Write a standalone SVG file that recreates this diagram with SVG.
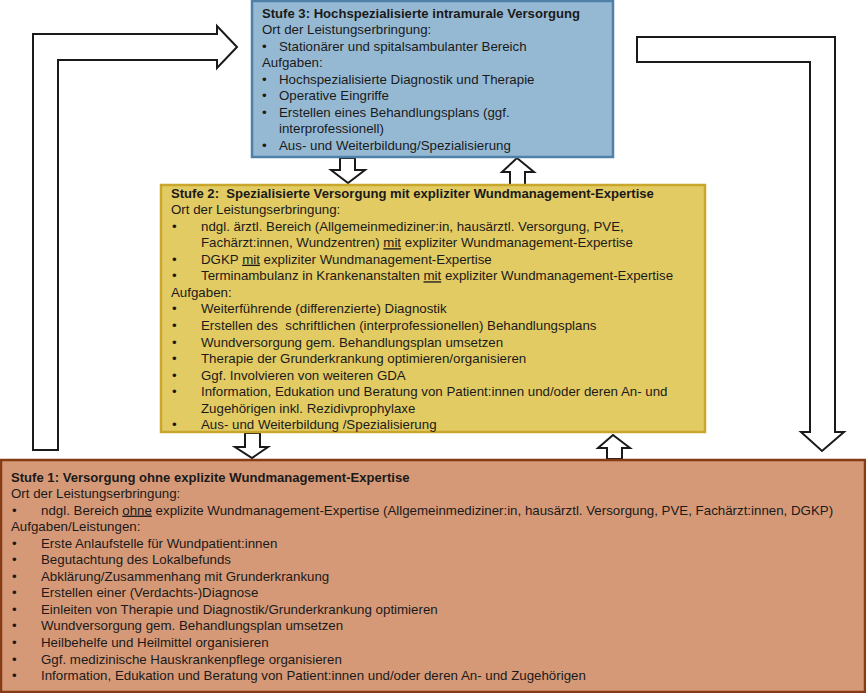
<svg xmlns="http://www.w3.org/2000/svg" width="866" height="693" viewBox="0 0 866 693">
<style>
text{font-family:"Liberation Sans",Arial,sans-serif;font-size:13.3px;fill:#1a1a1a;white-space:pre}
.b{font-weight:bold;font-size:13.1px}
.u{text-decoration:underline}
.arr{fill:#fff;stroke:#1a1a1a;stroke-width:2;stroke-linejoin:miter}
</style>
<rect width="866" height="693" fill="#fff"/>
<g id="connectors">
<path class="arr" d="M33,450 V34 H217 V26 L237,47 L217,68 V60 H58 V450 Z"/>
<path class="arr" d="M637,37 H835 V432 H844 L822,451 L801,432 H810 V62 H637 Z"/>
<path class="arr" d="M340,158 H355 V170 H365 L348,183 L331,170 H340 Z"/>
<path class="arr" d="M510,185 V172 H502 L517,158 L534,172 H525 V185 Z"/>
<path class="arr" d="M245,433 H260 V447 H268 L252,458 L235,447 H245 Z"/>
<path class="arr" d="M607,459 V448 H598 L613,435 L630,448 H622 V459 Z"/>
</g>
<g id="stufe3">
<rect x="252" y="1" width="361" height="156" fill="#96b9d3" stroke="#4f81a8" stroke-width="2.5"/>
<text x="262" y="17.5" class="b">Stufe 3: Hochspezialisierte intramurale Versorgung</text>
<text x="262" y="34">Ort der Leistungserbringung:</text>
<text x="262" y="50.6">•</text><text x="279" y="50.6">Stationärer und spitalsambulanter Bereich</text>
<text x="262" y="67.2">Aufgaben:</text>
<text x="262" y="83.7">•</text><text x="279" y="83.7">Hochspezialisierte Diagnostik und Therapie</text>
<text x="262" y="100.3">•</text><text x="279" y="100.3">Operative Eingriffe</text>
<text x="262" y="116.8">•</text><text x="279" y="116.8">Erstellen eines Behandlungsplans (ggf.</text>
<text x="279" y="133.4">interprofessionell)</text>
<text x="262" y="150">•</text><text x="279" y="150">Aus- und Weiterbildung/Spezialisierung</text>
</g>
<g id="stufe2">
<rect x="161" y="185" width="544" height="247" fill="#e3cb63" stroke="#c9a72d" stroke-width="2.5"/>
<text x="171" y="197.5" class="b">Stufe 2:  Spezialisierte Versorgung mit expliziter Wundmanagement-Expertise</text>
<text x="171" y="214">Ort der Leistungserbringung:</text>
<text x="172" y="230.6">•</text><text x="201" y="230.6">ndgl. ärztl. Bereich (Allgemeinmediziner:in, hausärztl. Versorgung, PVE,</text>
<text x="201" y="247.2">Fachärzt:innen, Wundzentren) <tspan class="u">mit</tspan> expliziter Wundmanagement-Expertise</text>
<text x="172" y="263.7">•</text><text x="201" y="263.7">DGKP <tspan class="u">mit</tspan> expliziter Wundmanagement-Expertise</text>
<text x="172" y="280.3">•</text><text x="201" y="280.3">Terminambulanz in Krankenanstalten <tspan class="u">mit</tspan> expliziter Wundmanagement-Expertise</text>
<text x="171" y="296.8">Aufgaben:</text>
<text x="172" y="313.4">•</text><text x="201" y="313.4">Weiterführende (differenzierte) Diagnostik</text>
<text x="172" y="329.9">•</text><text x="201" y="329.9">Erstellen des  schriftlichen (interprofessionellen) Behandlungsplans</text>
<text x="172" y="346.5">•</text><text x="201" y="346.5">Wundversorgung gem. Behandlungsplan umsetzen</text>
<text x="172" y="363">•</text><text x="201" y="363">Therapie der Grunderkrankung optimieren/organisieren</text>
<text x="172" y="379.6">•</text><text x="201" y="379.6">Ggf. Involvieren von weiteren GDA</text>
<text x="172" y="396.1">•</text><text x="201" y="396.1">Information, Edukation und Beratung von Patient:innen und/oder deren An- und</text>
<text x="201" y="412.7">Zugehörigen inkl. Rezidivprophylaxe</text>
<text x="172" y="429.2">•</text><text x="201" y="429.2">Aus- und Weiterbildung /Spezialisierung</text>
</g>
<g id="stufe1">
<rect x="1" y="460" width="864" height="232" fill="#d69977" stroke="#853c14" stroke-width="2.5"/>
<text x="11" y="481.5" class="b">Stufe 1: Versorgung ohne explizite Wundmanagement-Expertise</text>
<text x="11" y="498">Ort der Leistungserbringung:</text>
<text x="12" y="514.6">•</text><text x="41" y="514.6">ndgl. Bereich <tspan class="u">ohne</tspan> explizite Wundmanagement-Expertise (Allgemeinmediziner:in, hausärztl. Versorgung, PVE, Fachärzt:innen, DGKP)</text>
<text x="11" y="531.1">Aufgaben/Leistungen:</text>
<text x="12" y="547.7">•</text><text x="41" y="547.7">Erste Anlaufstelle für Wundpatient:innen</text>
<text x="12" y="564.2">•</text><text x="41" y="564.2">Begutachtung des Lokalbefunds</text>
<text x="12" y="580.8">•</text><text x="41" y="580.8">Abklärung/Zusammenhang mit Grunderkrankung</text>
<text x="12" y="597.3">•</text><text x="41" y="597.3">Erstellen einer (Verdachts-)Diagnose</text>
<text x="12" y="613.9">•</text><text x="41" y="613.9">Einleiten von Therapie und Diagnostik/Grunderkrankung optimieren</text>
<text x="12" y="630.4">•</text><text x="41" y="630.4">Wundversorgung gem. Behandlungsplan umsetzen</text>
<text x="12" y="647">•</text><text x="41" y="647">Heilbehelfe und Heilmittel organisieren</text>
<text x="12" y="663.5">•</text><text x="41" y="663.5">Ggf. medizinische Hauskrankenpflege organisieren</text>
<text x="12" y="680">•</text><text x="41" y="680">Information, Edukation und Beratung von Patient:innen und/oder deren An- und Zugehörigen</text>
</g>
</svg>
